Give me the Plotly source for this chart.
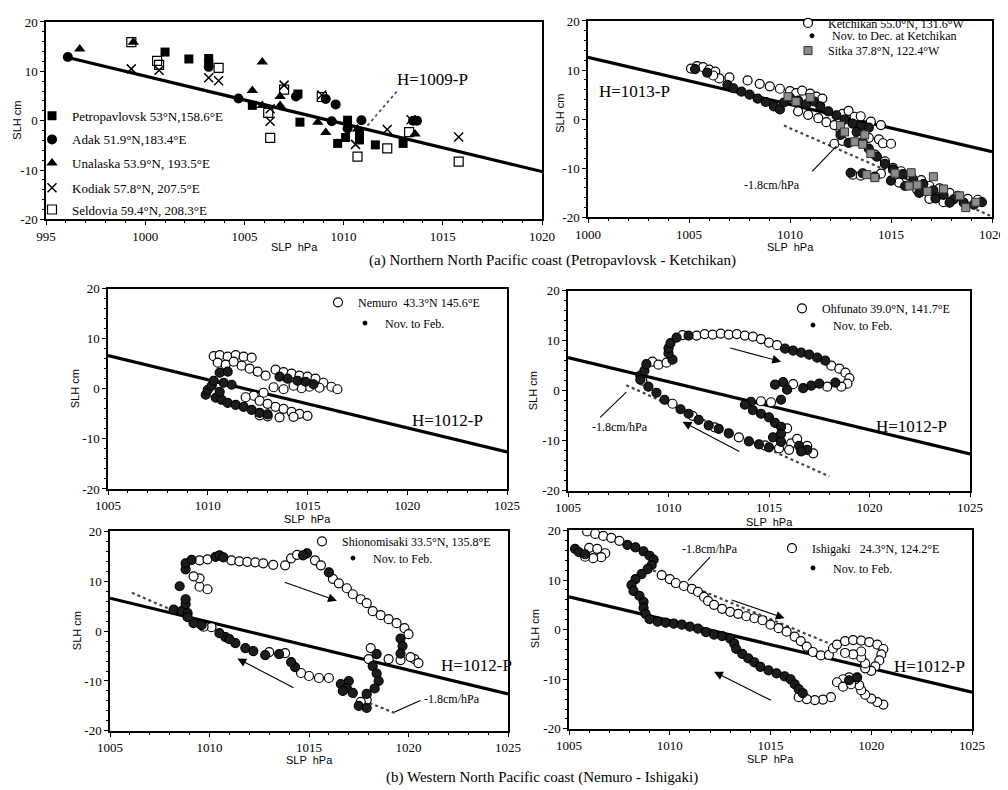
import plotly.graph_objects as go

SERIF = "Liberation Serif"
SANS = "Liberation Sans"
W, H = 1008, 790
OX, OY = 8, 8   # page body margin compensation

# ---------------- data (SLP hPa, SLH cm) ----------------
# (a) left panel: annual-mean points
petro = [(1001.0, 13.9), (1002.2, 12.5), (1003.2, 12.6), (1003.2, 11.7), (1005.4, 3.1), (1007.7, 5.4),
         (1007.8, -0.3), (1010.2, 0.1), (1010.1, -3.4), (1009.7, -4.6), (1010.8, -2.4), (1010.8, -3.9),
         (1011.6, -4.9), (1013.0, -4.6)]
adak = [(994.1, 14.1), (996.1, 12.9), (1003.2, 10.9), (1004.7, 4.5), (1007.6, 4.9), (1009.1, 4.4),
        (1009.6, 3.3), (1009.4, -0.1), (1010.2, -1.6), (1010.9, 0.1), (1013.5, 0.0), (1013.7, 0.0)]
unalaska = [(996.7, 14.5), (999.4, 15.9), (1005.4, 6.1), (1005.9, 11.9), (1005.9, 3.1), (1006.8, 4.9),
            (1006.8, 3.1), (1008.7, -0.3), (1009.1, -2.4), (1010.7, -1.7), (1013.6, -2.7)]
kodiak = [(999.3, 10.5), (1000.7, 10.2), (1003.2, 8.7), (1003.7, 8.1), (1006.3, 2.4), (1006.3, -0.1),
          (1007.0, 7.2), (1008.9, 5.2), (1010.6, -4.8), (1012.2, -1.8), (1013.4, 0.2), (1015.8, -3.3)]
seldovia = [(999.3, 15.9), (1000.6, 12.1), (1000.7, 11.3), (1003.7, 10.7), (1006.3, -3.5), (1006.2, 1.6),
            (1007.0, 6.3), (1008.9, 4.8), (1010.7, -7.3), (1012.2, -5.6), (1013.3, -2.3), (1015.8, -8.3)]

# (a) right panel
ketchikan = [(1005.1, 10.3), (1005.4, 10.8), (1005.7, 10.6), (1006.0, 10.1), (1006.3, 9.7), (1006.5, 8.3),
             (1006.2, 8.9), (1007.0, 8.5), (1007.9, 7.9), (1008.5, 7.2), (1009.0, 6.7), (1009.5, 6.2),
             (1010.0, 5.7), (1010.3, 5.3), (1010.6, 5.8), (1011.0, 5.2), (1011.3, 4.6), (1011.6, 4.2),
             (1010.4, 1.6), (1010.9, 0.9), (1011.4, 0.2), (1011.8, -0.6), (1012.2, -1.2), (1012.6, 1.1),
             (1012.9, 1.7), (1013.2, 0.5), (1013.5, 0.6), (1014.0, -0.5), (1014.5, -1.2), (1012.5, -2.3),
             (1012.2, -5.0), (1012.6, -4.4), (1013.4, -3.7), (1013.9, -3.8), (1014.4, -4.1), (1014.6, -4.9),
             (1015.0, -5.0), (1014.2, -7.2), (1014.7, -8.6), (1015.1, -9.9), (1015.5, -10.6), (1016.0, -11.8),
             (1016.5, -12.4), (1016.9, -13.6), (1017.4, -14.1), (1017.9, -15.0), (1018.3, -15.6),
             (1018.8, -16.2), (1019.3, -16.4), (1013.1, -11.3), (1013.5, -11.5), (1014.5, -11.1),
             (1015.4, -12.9), (1016.3, -14.4), (1016.9, -16.2), (1017.6, -16.9)]
ketchikan_novdec = [(1005.3, 10.2), (1005.9, 9.5), (1006.9, 7.0), (1007.2, 6.3), (1007.6, 5.6), (1008.0, 5.0),
                    (1008.4, 4.2), (1008.8, 3.5), (1009.2, 2.6), (1009.5, 2.0), (1009.7, 3.4), (1010.0, 4.4),
                    (1010.4, 3.8), (1010.8, 3.0), (1011.2, 3.6), (1011.5, 2.6), (1011.9, 1.6), (1012.3, 0.8),
                    (1012.7, -0.1), (1013.1, -0.9), (1013.5, -1.4), (1013.9, -1.7), (1013.3, -2.6),
                    (1013.6, -4.6), (1013.9, -6.0), (1014.3, -7.6), (1014.7, -9.1), (1015.1, -10.2),
                    (1015.6, -11.2), (1016.1, -12.3), (1016.6, -13.2), (1017.1, -14.5), (1017.6, -15.4),
                    (1018.1, -16.3), (1018.6, -17.0), (1019.1, -17.4), (1019.5, -16.9), (1013.0, -10.9),
                    (1013.6, -11.0), (1014.2, -11.7), (1015.0, -12.5), (1015.7, -13.6), (1016.4, -15.0),
                    (1017.2, -16.1), (1017.9, -17.0), (1012.9, -4.8), (1012.5, -3.2)]
sitka = [(1009.9, 4.6), (1010.3, 3.6), (1011.0, 4.4), (1012.5, -1.3), (1012.7, -2.6), (1013.2, -4.6),
         (1013.6, -5.1), (1013.7, -3.2), (1014.0, -7.0), (1013.8, -11.3), (1014.2, -11.9), (1015.2, -11.0),
         (1016.0, -10.9), (1015.9, -13.6), (1016.3, -13.4), (1016.8, -14.7), (1017.1, -11.7),
         (1017.6, -14.2), (1018.4, -15.6), (1018.7, -18.0), (1019.2, -16.9)]

# (b) Nemuro
nemuro = [(1010.3, 6.5), (1010.6, 6.7), (1011.0, 6.4), (1011.4, 6.7), (1011.8, 6.4), (1012.2, 6.2),
          (1010.5, 5.2), (1010.9, 4.8), (1011.3, 5.4), (1011.7, 4.6), (1012.1, 4.0), (1012.5, 3.4),
          (1012.9, 2.6), (1013.4, 3.8), (1013.8, 3.3), (1014.2, 3.0), (1014.6, 2.6), (1015.0, 2.4),
          (1015.4, 2.0), (1015.8, 1.2), (1016.2, 0.4), (1016.5, -0.1), (1015.6, 0.2), (1015.1, 0.4),
          (1014.7, 0.1), (1014.3, 0.6), (1013.8, -0.1), (1013.3, 0.3), (1012.8, -0.8), (1012.3, -1.4),
          (1011.9, -1.7), (1012.6, -2.4), (1013.0, -3.0), (1013.4, -3.6), (1013.8, -4.0), (1014.2, -4.6),
          (1014.6, -5.0), (1015.0, -5.4), (1014.3, -5.6), (1013.6, -5.7), (1013.0, -5.5), (1012.6, -5.3)]
nemuro_nf = [(1009.9, -1.2), (1010.0, -0.2), (1010.2, 0.6), (1010.4, -1.8), (1010.7, -2.2), (1011.0, -2.8),
             (1011.4, -3.2), (1011.8, -3.6), (1012.2, -4.2), (1012.6, -4.8), (1013.0, -5.1), (1010.3, 1.6),
             (1010.8, 1.2), (1011.2, 0.8), (1010.6, -0.6), (1013.6, 2.4), (1014.0, 2.0), (1014.5, 1.6),
             (1014.9, 1.4), (1015.3, 0.9), (1010.6, 3.2), (1011.0, 3.4)]

# (b) Ohfunato
ohfunato = [(1009.2, 5.8), (1009.5, 5.2), (1009.9, 5.6), (1010.7, 11.1), (1011.4, 11.0), (1011.8, 11.3),
            (1012.2, 11.2), (1012.6, 11.4), (1013.0, 11.2), (1013.4, 11.3), (1013.8, 11.0), (1014.2, 10.8),
            (1014.6, 10.3), (1015.0, 9.6), (1015.4, 9.1), (1018.1, 5.0), (1018.5, 4.4), (1018.8, 3.6),
            (1019.0, 2.5), (1018.9, 1.4), (1018.6, 0.8), (1017.9, 0.8), (1016.2, 1.3), (1015.1, -2.3),
            (1014.6, -2.1), (1015.9, -7.5), (1016.1, -10.5), (1017.2, -12.5), (1016.0, -11.8),
            (1015.5, -11.5), (1013.5, -9.3), (1010.2, -2.6), (1008.7, 2.0), (1016.4, -9.6), (1016.9, -11.0),
            (1011.2, -5.0), (1012.3, -7.3), (1014.8, -10.9)]
ohfunato_nf = [(1008.6, 3.0), (1008.6, 2.2), (1008.8, 4.0), (1008.9, 5.3), (1010.2, 6.2), (1010.0, 7.5),
               (1010.0, 8.5), (1010.1, 9.5), (1010.4, 10.6), (1011.0, 11.0), (1015.8, 8.4), (1016.2, 8.0),
               (1016.6, 7.6), (1017.0, 7.2), (1017.4, 6.6), (1017.8, 6.0), (1018.3, 1.6), (1017.5, 1.4),
               (1017.1, 1.0), (1016.7, 0.5), (1015.7, 1.7), (1015.3, 1.2), (1015.9, 0.2), (1015.6, -1.8),
               (1014.1, -2.2), (1013.8, -2.8), (1014.2, -3.9), (1014.6, -4.6), (1015.0, -5.3), (1015.3, -6.4),
               (1015.6, -7.2), (1015.6, -8.6), (1015.2, -9.3), (1015.6, -10.2), (1016.5, -11.0),
               (1016.9, -11.8), (1016.6, -12.1), (1015.0, -11.3), (1014.5, -10.7), (1014.0, -10.1),
               (1013.0, -8.5), (1012.5, -7.6), (1012.0, -6.9), (1011.5, -5.8), (1011.0, -4.6), (1010.6, -3.7),
               (1009.8, -1.8), (1009.4, -0.4), (1009.0, 0.8)]

# (b) Shionomisaki
shiono = [(1009.5, 8.9), (1009.9, 8.4), (1009.5, 10.6), (1009.2, 11.0), (1009.5, 14.2), (1009.9, 14.4),
          (1011.1, 14.2), (1011.5, 14.0), (1011.9, 13.9), (1012.3, 13.8), (1012.7, 13.6), (1013.2, 13.3),
          (1013.8, 13.2), (1014.1, 14.6), (1014.4, 15.3), (1015.3, 14.2), (1015.6, 13.2), (1016.2, 10.5),
          (1016.5, 9.6), (1016.9, 8.6), (1017.2, 7.4), (1017.6, 6.4), (1017.9, 5.6), (1018.2, 4.0),
          (1018.6, 3.2), (1019.0, 2.4), (1019.4, 1.6), (1019.8, 0.6), (1020.0, -0.6), (1020.3, -5.6),
          (1020.5, -6.4), (1020.1, -5.2), (1019.6, -5.8), (1019.0, -5.6), (1018.1, -3.4), (1018.0, -5.6),
          (1017.9, -13.8), (1017.6, -14.2), (1016.0, -9.4), (1015.5, -9.4), (1015.0, -9.0), (1014.6, -8.4),
          (1013.8, -4.4), (1013.0, -4.2), (1010.1, 0.8), (1009.7, 0.9)]
shiono_nf = [(1008.2, 4.3), (1008.6, 4.0), (1008.9, 3.6), (1008.8, 5.4), (1008.8, 6.4), (1008.5, 9.0),
             (1008.8, 12.4), (1008.8, 13.6), (1009.1, 14.3), (1010.3, 14.9), (1010.5, 15.2), (1010.7, 14.8),
             (1014.9, 15.6), (1014.7, 15.2), (1016.0, 11.8), (1019.6, -1.5), (1019.7, -3.0), (1019.6, -4.5),
             (1018.4, -4.6), (1018.2, -7.0), (1018.4, -8.5), (1018.5, -10.0), (1018.3, -11.5),
             (1017.9, -12.6), (1017.0, -10.0), (1016.6, -10.6), (1016.9, -11.4), (1017.2, -12.4),
             (1016.7, -12.0), (1017.5, -15.0), (1017.9, -15.4), (1014.3, -7.2), (1014.1, -6.2),
             (1013.5, -4.6), (1012.8, -4.8), (1011.8, -3.4), (1011.3, -2.4), (1010.8, -1.2), (1010.5, -0.4),
             (1009.6, 1.2), (1009.2, 1.6), (1008.9, 2.8), (1011.0, -1.6), (1012.2, -4.0)]

# (b) Ishigaki
ishigaki = [(1005.9, 19.8), (1006.3, 19.3), (1006.7, 18.9), (1007.1, 18.5), (1007.5, 17.9),
            (1006.0, 16.5), (1006.4, 16.3), (1006.8, 15.4), (1006.6, 14.6), (1006.2, 14.4), (1005.8, 14.7),
            (1009.6, 11.0), (1010.0, 10.2), (1010.3, 9.4), (1010.7, 8.8), (1011.1, 8.2), (1011.4, 7.6),
            (1011.7, 6.6), (1011.9, 5.8), (1012.2, 5.0), (1012.6, 4.2), (1013.0, 3.6), (1013.4, 3.2),
            (1013.8, 2.7), (1014.2, 2.3), (1014.6, 1.9), (1015.0, 1.0), (1015.4, 0.3), (1015.8, -0.4),
            (1016.2, -1.4), (1016.5, -2.3), (1016.8, -3.4), (1017.1, -4.5), (1017.5, -5.2), (1017.9, -5.1),
            (1018.1, -3.8), (1018.3, -3.0), (1018.7, -2.3), (1019.1, -2.1), (1019.5, -2.2), (1019.9, -2.5),
            (1020.3, -3.0), (1020.6, -3.9), (1020.5, -5.0), (1020.4, -6.2), (1020.2, -7.4), (1020.0, -8.3),
            (1019.7, -7.8), (1019.7, -6.8), (1019.5, -5.6), (1019.5, -4.4), (1019.1, -5.0), (1018.7, -4.7),
            (1020.6, -15.1), (1020.3, -14.6), (1020.0, -13.9), (1019.7, -13.1), (1019.5, -12.2),
            (1019.4, -11.2), (1019.2, -10.0), (1018.9, -9.6), (1018.6, -10.0), (1018.3, -10.6),
            (1018.6, -11.5), (1019.0, -11.0), (1018.0, -13.6), (1017.6, -14.1), (1017.2, -14.2),
            (1016.8, -14.0), (1016.4, -13.6)]
ishigaki_nf = [(1005.3, 16.3), (1005.5, 15.6), (1005.8, 15.2), (1007.9, 17.1), (1008.3, 16.6), (1008.7, 15.8),
               (1009.0, 14.9), (1009.2, 14.1), (1009.1, 13.0), (1008.9, 12.2), (1008.6, 11.2), (1008.3, 10.2),
               (1008.1, 9.0), (1008.2, 7.8), (1008.5, 6.8), (1008.7, 5.6), (1008.7, 4.4), (1008.8, 3.2),
               (1009.0, 2.1), (1009.4, 1.6), (1009.8, 1.4), (1010.2, 1.2), (1010.6, 1.0), (1011.0, 0.6),
               (1011.4, 0.2), (1011.8, -0.5), (1012.2, -1.0), (1012.6, -1.3), (1013.0, -1.8), (1013.2, -2.8),
               (1013.3, -3.9), (1013.6, -4.9), (1013.9, -5.8), (1014.2, -6.6), (1014.5, -7.5), (1014.9, -8.2),
               (1015.3, -8.8), (1015.7, -9.4), (1016.0, -10.0), (1016.2, -11.0), (1016.4, -12.0),
               (1016.6, -12.8), (1018.9, -10.2), (1019.3, -9.6)]

# reference lines (endpoints)
line_a1 = [(996.0, 12.9), (1020.0, -10.3)]     # H=1009-P
line_a2 = [(1000.0, 12.6), (1020.0, -6.6)]     # H=1013-P
line_b = [(1005.0, 6.6), (1025.0, -12.6)]      # H=1012-P
slope_a2 = [(1009.7, -1.3), (1020.0, -19.8)]   # -1.8 cm/hPa
slope_b2 = [(1007.9, 1.1), (1018.0, -17.1)]
slope_b3a = [(1006.1, 7.7), (1007.9, 4.6)]
slope_b3b = [(1017.2, -13.1), (1019.3, -16.4)]
slope_b4 = [(1008.9, 12.4), (1018.1, -3.1)]

x_ticks_a1 = [995, 1000, 1005, 1010, 1015, 1020]
x_ticks_a2 = [1000, 1005, 1010, 1015, 1020]
x_ticks_b = [1005, 1010, 1015, 1020, 1025]
y_ticks = [-20, -10, 0, 10, 20]
y_tick_text = ["-20", "-10", "0", "10", "20"]

# ---------------- layout geometry (pixels) ----------------
panels = {
    1: dict(px=(46, 542), py=(12, 212), xr=(995, 1020), xt=x_ticks_a1),
    2: dict(px=(588, 992), py=(11, 210), xr=(1000, 1020), xt=x_ticks_a2),
    3: dict(px=(108, 507), py=(282, 485), xr=(1005, 1025), xt=x_ticks_b),
    4: dict(px=(568, 970), py=(284, 487), xr=(1005, 1025), xt=x_ticks_b),
    5: dict(px=(110, 508), py=(528, 730), xr=(1005, 1025), xt=x_ticks_b),
    6: dict(px=(569, 972), py=(527, 728), xr=(1005, 1025), xt=x_ticks_b),
}


def fx(x):
    return (x - OX) / W


def fy(y):
    return 1 - (y - OY) / H


def ax(i, kind):
    return kind if i == 1 else f"{kind}{i}"


def xs(pts):
    return [p[0] for p in pts]


def ys(pts):
    return [p[1] for p in pts]


fig = go.Figure()
legends = {}
leg_count = [0]


def make_legend(text_x, y_c, size=12):
    leg_count[0] += 1
    key = "legend" if leg_count[0] == 1 else f"legend{leg_count[0]}"
    legends[key] = dict(x=fx(text_x - 40), y=fy(y_c), xanchor="left", yanchor="middle",
                        bgcolor="rgba(0,0,0,0)", borderwidth=0,
                        font=dict(family=SERIF, size=size, color="black"))
    return key


def add_line(i, pts, width=3.2, dash=None, color="black"):
    fig.add_trace(go.Scatter(x=xs(pts), y=ys(pts), mode="lines", xaxis=ax(i, "x"), yaxis=ax(i, "y"),
                             line=dict(color=color, width=width, dash=dash), showlegend=False,
                             hoverinfo="skip"))


def add_pts(i, pts, symbol, size, fill, lw=1.2, lcolor="black", name=None, legend=None, clip=True):
    fig.add_trace(go.Scatter(x=xs(pts), y=ys(pts), mode="markers", xaxis=ax(i, "x"), yaxis=ax(i, "y"),
                             marker=dict(symbol=symbol, size=size, color=fill,
                                         line=dict(color=lcolor, width=lw)),
                             name=name, showlegend=legend is not None, legend=legend,
                             cliponaxis=clip))


def add_legend_only(i, symbol, size, fill, name, legend, lw=1.0):
    fig.add_trace(go.Scatter(x=[None], y=[None], mode="markers", xaxis=ax(i, "x"), yaxis=ax(i, "y"),
                             marker=dict(symbol=symbol, size=size, color=fill,
                                         line=dict(color="black", width=lw)),
                             name=name, showlegend=True, legend=legend))


OPEN = "white"
DARK = "#1c1c1c"

# ---- panel 1
add_line(1, line_a1)
add_pts(1, petro, "square", 9, "black", lw=0, name="Petropavlovsk 53°N,158.6°E",
        legend=make_legend(72, 107, 13), clip=False)
add_pts(1, adak, "circle", 10, "black", lw=0, name="Adak 51.9°N,183.4°E",
        legend=make_legend(72, 131, 13), clip=False)
add_pts(1, unalaska, "triangle-up", 10, "black", lw=0, name="Unalaska 53.9°N, 193.5°E",
        legend=make_legend(72, 155, 13), clip=False)
add_pts(1, kodiak, "x-thin", 9, "black", lw=1.5, name="Kodiak 57.8°N, 207.5°E",
        legend=make_legend(72, 180, 13), clip=False)
add_pts(1, seldovia, "square-open", 9, "black", lw=1.2, name="Seldovia 59.4°N, 208.3°E",
        legend=make_legend(72, 202, 13), clip=False)

# ---- panel 2
add_line(2, line_a2)
add_line(2, slope_a2, width=2.2, dash="dot", color="#444")
add_pts(2, ketchikan, "circle", 9, OPEN, name="Ketchikan 55.0°N, 131.6°W", legend=make_legend(828, 13))
add_pts(2, ketchikan_novdec, "circle", 9, DARK)
add_legend_only(2, "circle", 4, "black", "Nov. to Dec. at Ketchikan", make_legend(832, 26))
add_pts(2, sitka, "square", 8, "#8c8c8c", lw=1.0, lcolor="#333", name="Sitka 37.8°N, 122.4°W",
        legend=make_legend(828, 41))

# ---- panels 3-6
loop_sets = {
    3: (nemuro, nemuro_nf, "Nemuro  43.3°N 145.6°E", (358, 296), (385, 317)),
    4: (ohfunato, ohfunato_nf, "Ohfunato 39.0°N, 141.7°E", (822, 302), (833, 319)),
    5: (shiono, shiono_nf, "Shionomisaki 33.5°N, 135.8°E", (342, 538), (373, 555)),
    6: (ishigaki, ishigaki_nf, "Ishigaki   24.3°N, 124.2°E", (812, 545), (833, 565)),
}
slopes = {4: [slope_b2], 5: [slope_b3a, slope_b3b], 6: [slope_b4]}
for i, (op, nf, name, l1, l2) in loop_sets.items():
    for s in slopes.get(i, []):
        add_line(i, s, width=2.2, dash="dot", color="#444")
    add_line(i, line_b)
    add_pts(i, op, "circle", 9, OPEN, name=name, legend=make_legend(l1[0], l1[1]))
    add_pts(i, nf, "circle", 9, DARK)
    add_legend_only(i, "circle", 4, "black", "Nov. to Feb.", make_legend(l2[0], l2[1]))

# ---------------- axes ----------------
layout_axes = {}
for i, p in panels.items():
    x0, x1 = p["px"]
    y0, y1 = p["py"]
    layout_axes[ax(i, "xaxis")] = dict(
        domain=[fx(x0), fx(x1)], anchor=ax(i, "y"), range=list(p["xr"]),
        tickvals=p["xt"], ticktext=[str(v) for v in p["xt"]],
        showline=True, mirror=True, linecolor="black", linewidth=1.5,
        ticks="outside", ticklen=4, tickwidth=1.2, tickcolor="black",
        minor=dict(ticks="outside", ticklen=2, dtick=1, tickcolor="black", tickwidth=1),
        tickfont=dict(family=SERIF, size=13, color="black"),
        showgrid=False, zeroline=False, automargin=False, fixedrange=True)
    layout_axes[ax(i, "yaxis")] = dict(
        domain=[fy(y1), fy(y0)], anchor=ax(i, "x"), range=[-20, 20],
        tickvals=y_ticks, ticktext=y_tick_text,
        showline=True, mirror=True, linecolor="black", linewidth=1.5,
        ticks="outside", ticklen=4, tickwidth=1.2, tickcolor="black",
        minor=dict(ticks="outside", ticklen=2, dtick=2, tickcolor="black", tickwidth=1),
        tickfont=dict(family=SERIF, size=13, color="black"),
        showgrid=False, zeroline=False, automargin=False, fixedrange=True)

# ---------------- annotations ----------------
ann = []


def ptxt(x, y, text, size=11, family=SANS, angle=0):
    ann.append(dict(xref="paper", yref="paper", x=fx(x), y=fy(y), text=text, showarrow=False,
                    textangle=angle, font=dict(family=family, size=size, color="black"),
                    xanchor="center", yanchor="middle"))


def dtxt(i, x, y, text, size=17):
    ann.append(dict(xref=ax(i, "x"), yref=ax(i, "y"), x=x, y=y, text=text, showarrow=False,
                    font=dict(family=SERIF, size=size, color="black"), xanchor="center", yanchor="middle"))


def arrow(i, tail, head):
    ann.append(dict(xref=ax(i, "x"), yref=ax(i, "y"), axref=ax(i, "x"), ayref=ax(i, "y"),
                    x=head[0], y=head[1], ax=tail[0], ay=tail[1], text="", showarrow=True,
                    arrowhead=2, arrowsize=1.6, arrowwidth=1.1, arrowcolor="black"))


# axis titles
for i, (tx, ty) in {1: (17, 112), 2: (560, 105), 3: (75, 384), 4: (533, 386), 5: (77, 629), 6: (535, 627)}.items():
    ptxt(tx, ty, "SLH cm", 11, SANS, -90)
for i, (tx, ty) in {1: (294, 240), 2: (790, 240), 3: (307, 515), 4: (769, 518), 5: (309, 760), 6: (770, 758)}.items():
    ptxt(tx, ty, "SLP  hPa", 11, SANS)

ptxt(552, 254, "(a) Northern North Pacific coast (Petropavlovsk - Ketchikan)", 15, SERIF)
ptxt(542, 777, "(b) Western North Pacific coast (Nemuro - Ishigaki)", 15, SERIF)

dtxt(1, 1014.5, 8.4, "H=1009-P", 17)
dtxt(2, 1002.3, 5.7, "H=1013-P", 17)
dtxt(3, 1022.0, -6.4, "H=1012-P", 17)
dtxt(4, 1022.1, -7.2, "H=1012-P", 17)
dtxt(5, 1023.4, -6.8, "H=1012-P", 17)
dtxt(6, 1022.9, -7.4, "H=1012-P", 17)
dtxt(2, 1009.1, -13.3, "-1.8cm/hPa", 12)
dtxt(4, 1007.6, -7.3, "-1.8cm/hPa", 12)
dtxt(5, 1022.2, -13.6, "-1.8cm/hPa", 12)
dtxt(6, 1012.0, 16.2, "-1.8cm/hPa", 12)

arrow(4, (1013.0, 8.6), (1015.6, 5.8))
arrow(4, (1013.6, -12.3), (1010.7, -6.2))
arrow(5, (1013.7, 9.9), (1016.4, 6.1))
arrow(5, (1014.3, -11.5), (1011.4, -5.5))
arrow(6, (1013.0, 6.1), (1015.7, 2.3))
arrow(6, (1015.1, -14.4), (1012.2, -8.5))

shapes = []


def seg(i, a, b, dash="solid", width=1.1, color="black"):
    shapes.append(dict(type="line", xref=ax(i, "x"), yref=ax(i, "y"), x0=a[0], y0=a[1], x1=b[0], y1=b[1],
                       line=dict(color=color, width=width, dash=dash)))


seg(1, (1011.2, -1.0), (1012.7, 6.0), dash="dot", width=1.8, color="#555")
seg(2, (1011.1, -10.6), (1012.3, -5.5))
seg(4, (1006.6, -5.3), (1007.9, -0.3))
seg(5, (1019.3, -16.2), (1020.6, -13.9))
seg(6, (1010.9, 9.9), (1012.0, 14.6))

fig.update_layout(
    width=W, height=H, margin=dict(l=0, r=0, t=0, b=0),
    paper_bgcolor="white", plot_bgcolor="white",
    annotations=ann, shapes=shapes, **layout_axes, **legends,
)

fig.write_html("out.html")
